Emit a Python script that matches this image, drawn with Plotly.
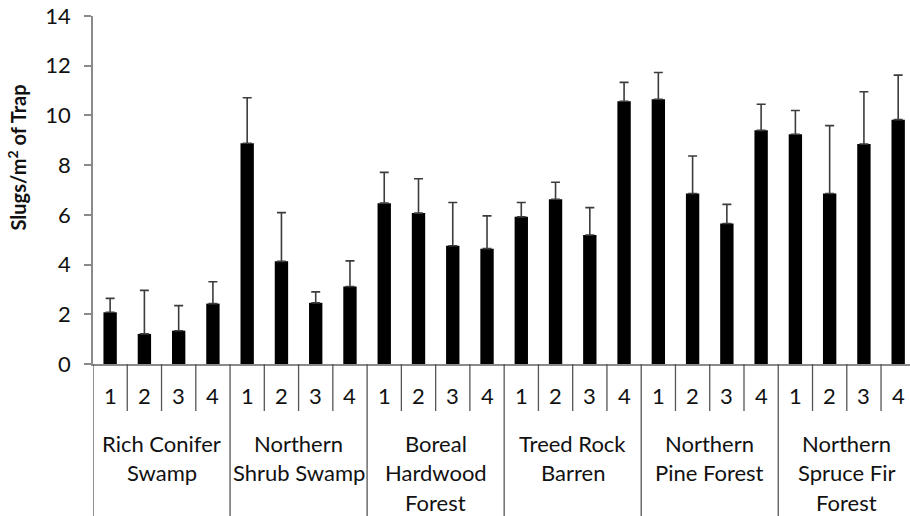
import plotly.graph_objects as go

# Mean slug density per trap position within each forest type
habitats = [
    "Rich Conifer<br>Swamp",
    "Northern<br>Shrub Swamp",
    "Boreal<br>Hardwood<br>Forest",
    "Treed Rock<br>Barren",
    "Northern<br>Pine Forest",
    "Northern<br>Spruce Fir<br>Forest",
]
positions = ["1", "2", "3", "4"]

means = [
    2.08, 1.21, 1.34, 2.43,
    8.88, 4.13, 2.46, 3.12,
    6.47, 6.07, 4.76, 4.64,
    5.92, 6.63, 5.19, 10.57,
    10.65, 6.86, 5.65, 9.40,
    9.24, 6.86, 8.85, 9.83,
]
upper = [
    2.64, 2.96, 2.35, 3.31,
    10.71, 6.09, 2.90, 4.15,
    7.71, 7.45, 6.50, 5.96,
    6.50, 7.31, 6.29, 11.33,
    11.73, 8.37, 6.42, 10.45,
    10.20, 9.59, 10.95, 11.62,
]
y_ticks = [0, 2, 4, 6, 8, 10, 12, 14]

n_pos = len(positions)
xs = list(range(len(means)))
err_plus = [u - m for u, m in zip(upper, means)]

FONT = "Lato"
TEXT = "#111111"
AXIS_GREY = "#8a8a8a"

fig = go.Figure()
fig.add_trace(go.Bar(
    x=xs,
    y=means,
    marker=dict(color="black", line=dict(width=0)),
    width=0.39,
    error_y=dict(
        type="data",
        symmetric=False,
        array=err_plus,
        arrayminus=[0] * len(means),
        color="#3c3c3c",
        thickness=1.6,
        width=4.5,
    ),
    showlegend=False,
))

W, H = 910, 516
M_L, M_R, M_T, M_B = 93, 0, 16, 152
plot_h = H - M_T - M_B


def py(px_below_axis):
    # paper y coordinate for a point given in pixels below the x axis
    return -px_below_axis / plot_h


shapes = []
annotations = []

# Dividers between trap positions and between habitats
for i in range(len(means) + 1):
    xb = i - 0.5
    is_group = i % n_pos == 0
    shapes.append(dict(
        type="line", xref="x", yref="paper",
        x0=xb, x1=xb, y0=0, y1=py(153 if is_group else 47),
        line=dict(color="#555555", width=1.3),
    ))

# Trap position labels
for i in xs:
    annotations.append(dict(
        x=i, y=py(32), xref="x", yref="paper",
        text=positions[i % n_pos], showarrow=False,
        font=dict(family=FONT, size=22, color=TEXT),
        xanchor="center", yanchor="middle",
    ))

# Habitat labels, one annotation per line
for g, name in enumerate(habitats):
    cx = g * n_pos + (n_pos - 1) / 2
    for k, line in enumerate(name.split("<br>")):
        annotations.append(dict(
            x=cx, y=py(79 + 29.5 * k), xref="x", yref="paper",
            text=line, showarrow=False,
            font=dict(family=FONT, size=22, color=TEXT),
            xanchor="center", yanchor="middle",
        ))

# Y axis title
annotations.append(dict(
    x=(16.5 - M_L) / (W - M_L - M_R), y=(H - M_B - 158) / plot_h,
    xref="paper", yref="paper",
    text="<b>Slugs/m<sup>2</sup> of Trap</b>", textangle=-90,
    showarrow=False,
    font=dict(family=FONT, size=20, color=TEXT),
    xanchor="center", yanchor="middle",
))

fig.update_layout(
    width=W, height=H,
    margin=dict(l=M_L, r=M_R, t=M_T, b=M_B, pad=0),
    paper_bgcolor="white", plot_bgcolor="white",
    bargap=0.61,
    shapes=shapes,
    annotations=annotations,
    xaxis=dict(
        range=[-0.5, len(means) - 0.5 - 0.155],
        showticklabels=False, ticks="",
        showgrid=False, zeroline=False,
        showline=True, linecolor=AXIS_GREY, linewidth=1.5,
        fixedrange=True,
    ),
    yaxis=dict(
        range=[0, 14],
        tickvals=y_ticks,
        ticks="outside", ticklen=7, tickwidth=1.5, tickcolor=AXIS_GREY,
        tickfont=dict(family=FONT, size=22, color=TEXT),
        ticklabelstandoff=9,
        showgrid=False, zeroline=False,
        showline=True, linecolor=AXIS_GREY, linewidth=1.5,
        fixedrange=True,
    ),
)

fig.write_html("out.html", config={"displayModeBar": False})
